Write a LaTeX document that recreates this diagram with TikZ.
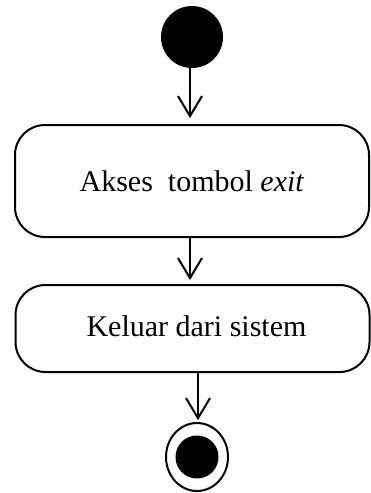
\documentclass[tikz,border=0pt]{standalone}
\usepackage{fontspec}
\setmainfont{Liberation Serif}
\usetikzlibrary{arrows.meta,shapes.geometric}
\begin{document}
\begin{tikzpicture}[x=1pt,y=1pt,
  flow/.style={line width=2pt,-{Straight Barb[length=20pt,width=24pt,line width=2pt]}},
  actbox/.style={draw,line width=2pt,rounded corners=30pt,inner sep=0pt,
    font=\fontsize{30}{36}\selectfont}]
\useasboundingbox (0,0) rectangle (371,-493);
\node[circle,fill=black,minimum size=62pt,inner sep=0pt] (start) at (192,-37) {};
\node[actbox,minimum width=354pt,minimum height=112pt] (b1) at (192,-181) {Akses\ \ tombol \textit{exit}};
\node[actbox,minimum width=354pt,minimum height=87pt] (b2) at (192.5,-328.5) {\raisebox{4pt}{\hspace{8pt}Keluar dari sistem}};
\node[ellipse,draw,line width=2pt,minimum width=62pt,minimum height=68pt,inner sep=0pt] (endo) at (197,-457) {};
\node[circle,fill=black,minimum size=43pt,inner sep=0pt] (endi) at (endo.center) {};
\coordinate (t1) at (190,-118);
\coordinate (t2) at (190,-280);
\coordinate (t3) at (198,-420);
\draw[flow] (start.south -| t1) -- (t1);
\draw[flow] (b1.south -| t2) -- (t2);
\draw[flow] (b2.south -| t3) -- (t3);
\end{tikzpicture}
\end{document}
